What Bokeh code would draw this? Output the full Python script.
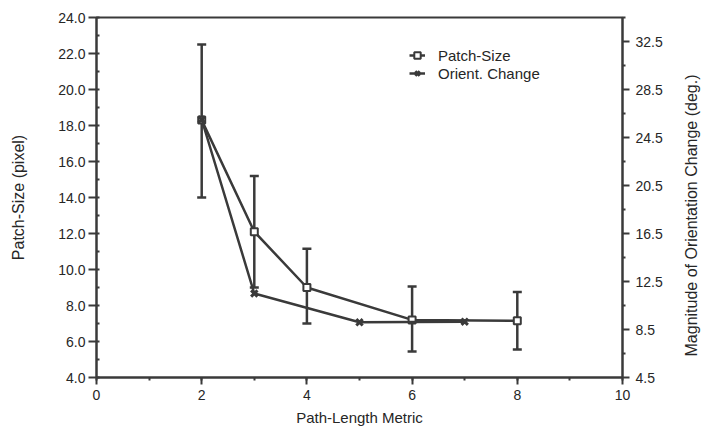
from bokeh.plotting import figure
from bokeh.models import (ColumnDataSource, Range1d, LinearAxis, Whisker, TeeHead,
                          SingleIntervalTicker, FixedTicker, PrintfTickFormatter,
                          Legend, LegendItem, Label)
from bokeh.embed import file_html
from bokeh.resources import INLINE

# ---- data ----
patch_x = [2, 3, 4, 6, 8]
patch_y = [18.3, 12.1, 9.0, 7.2, 7.15]
patch_lower = [14.0, 9.0, 7.0, 5.45, 5.55]
patch_upper = [22.5, 15.2, 11.15, 9.05, 8.75]

orient_x = [2, 3, 5, 7]
orient_y = [26.0, 11.5, 9.1, 9.15]

left_ticks = [4, 6, 8, 10, 12, 14, 16, 18, 20, 22, 24]
left_minor = [5, 7, 9, 11, 13, 15, 17, 19, 21, 23]
right_ticks = [4.5, 8.5, 12.5, 16.5, 20.5, 24.5, 28.5, 32.5]
right_minor = [6.5, 10.5, 14.5, 18.5, 22.5, 26.5, 30.5, 34.5]

INK = "#3a3a3a"
TXT = "#262626"
FONT = "Liberation Sans"
TICK_FS = "14px"
TITLE_FS = "15px"
VTITLE_FS = "16px"

p = figure(width=701, height=430, output_backend="svg", toolbar_location=None,
           x_range=Range1d(0, 10), y_range=Range1d(4, 24),
           min_border_left=96, min_border_right=79, min_border_top=17, min_border_bottom=53)
p.extra_y_ranges = {"right": Range1d(4.5, 34.5)}
p.xgrid.visible = False
p.ygrid.visible = False
p.outline_line_color = INK
p.outline_line_width = 2
p.background_fill_color = "white"
p.border_fill_color = "white"

def style_axis(ax):
    ax.axis_line_color = INK
    ax.axis_line_width = 2
    ax.major_tick_line_color = INK
    ax.major_tick_line_width = 2
    ax.minor_tick_line_color = INK
    ax.minor_tick_line_width = 2
    ax.major_label_text_font = FONT
    ax.major_label_text_font_size = TICK_FS
    ax.major_label_text_color = TXT
    ax.axis_label_text_font = FONT
    ax.axis_label_text_font_size = TITLE_FS
    ax.axis_label_text_font_style = "normal"
    ax.axis_label_text_color = TXT

xa = p.xaxis[0]
style_axis(xa)
xa.ticker = SingleIntervalTicker(interval=2, num_minor_ticks=2)
xa.axis_label = "Path-Length Metric"
xa.major_tick_out = 7
xa.major_tick_in = 0
xa.minor_tick_out = 3
xa.minor_tick_in = 0
xa.major_label_standoff = 5
xa.axis_label_standoff = 6

ya = p.yaxis[0]
style_axis(ya)
ya.ticker = FixedTicker(ticks=left_ticks, minor_ticks=left_minor)
ya.formatter = PrintfTickFormatter(format="%.1f")
ya.axis_label = "Patch-Size (pixel)"
ya.axis_label_text_font_size = VTITLE_FS
ya.major_tick_out = 8
ya.major_tick_in = 3
ya.minor_tick_out = 0
ya.minor_tick_in = 3
ya.major_label_standoff = 3
ya.axis_label_standoff = 28

ra = LinearAxis(y_range_name="right")
style_axis(ra)
ra.ticker = FixedTicker(ticks=right_ticks, minor_ticks=right_minor)
ra.formatter = PrintfTickFormatter(format="%.1f")
ra.major_tick_out = 7
ra.major_tick_in = 0
ra.minor_tick_out = 3
ra.minor_tick_in = 0
ra.major_label_standoff = 6
p.add_layout(ra, "right")

# right-axis title, reading bottom to top as in the reference
rtitle = Label(x=26, y=162, x_units="screen", y_units="screen",
               text="Magnitude of Orientation Change (deg.)",
               angle=90, angle_units="deg", text_align="center", text_baseline="middle",
               text_font=FONT, text_font_size=VTITLE_FS, text_color=TXT)
p.add_layout(rtitle, "right")

psrc = ColumnDataSource(dict(x=patch_x, y=patch_y, lower=patch_lower, upper=patch_upper))
osrc = ColumnDataSource(dict(x=orient_x, y=orient_y))

w = Whisker(source=psrc, base="x", lower="lower", upper="upper",
            line_color=INK, line_width=2.5, level="underlay",
            upper_head=TeeHead(size=9, line_color=INK, line_width=2.5),
            lower_head=TeeHead(size=9, line_color=INK, line_width=2.5))
p.add_layout(w)

pl = p.line("x", "y", source=psrc, line_color=INK, line_width=2.5)
pm = p.scatter("x", "y", source=psrc, marker="square", size=7, fill_color="white",
               line_color=INK, line_width=2)
ol = p.line("x", "y", source=osrc, y_range_name="right", line_color=INK, line_width=2.5)
om = p.scatter("x", "y", source=osrc, y_range_name="right", marker="x", size=9,
               line_color=INK, line_width=3)

legend = Legend(items=[LegendItem(label="Patch-Size", renderers=[pl, pm]),
                       LegendItem(label="Orient. Change", renderers=[ol, om])],
                location=(313, 295), padding=0, margin=0, spacing=0,
                glyph_width=16, glyph_height=18, label_height=18, label_standoff=13,
                border_line_color=None, background_fill_alpha=0,
                label_text_font=FONT, label_text_font_size=TITLE_FS,
                label_text_color=TXT)
p.add_layout(legend)

open("out.html", "w").write(file_html(p, INLINE))
